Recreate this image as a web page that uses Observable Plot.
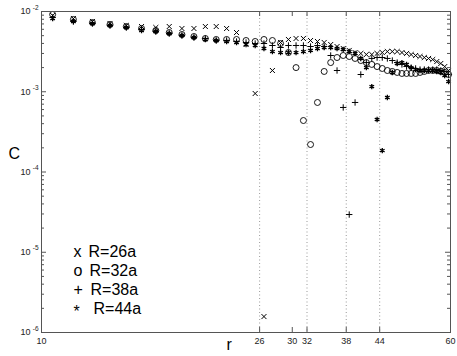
<!DOCTYPE html>
<html><head><meta charset="utf-8">
<script src="https://cdn.jsdelivr.net/npm/d3@7"></script>
<script src="https://cdn.jsdelivr.net/npm/@observablehq/plot@0.6"></script>
<style>body{margin:0;background:#fff;} #chart svg{display:block;background:#fff;}</style>
</head><body><div id="chart"></div>
<script>
const rValues = [10.5,11.5,12.5,13.5,14.5,15.5,16.5,17.5,18.5,19.5,20.5,21.5,22.5,23.5,24.5,25.5,26.5,27.5,28.5,29.5,30.5,31.5,32.5,33.5,34.5,35.5,36.5,37.5,38.5,39.5,40.5,41.5,42.5,43.5,44.5,45.5,46.5,47.5,48.5,49.5,50.5,51.5,52.5,53.5,54.5,55.5,56.5,57.5,58.5,59.5];
const cR26 = [.00892,.00818,.00751,.00709,.00669,.00650,.00632,.00650,.00614,.00614,.00650,.00650,.00614,.00547,.00388,.000951,1.58e-6,.00184,.00411,.00448,.00461,.00461,.00435,.00423,.00411,.00388,.00366,.00346,.00327,.00308,.00300,.00291,.00291,.00300,.00308,.00317,.00317,.00317,.00308,.00300,.00291,.00283,.00275,.00267,.00260,.00252,.00238,.00225,.00206,.00184];
const cR32 = [.00918,.00795,.00729,.00689,.00650,.00614,.00580,.00547,.00517,.00488,.00461,.00448,.00448,.00448,.00435,.00423,.00448,.00435,.00399,.00308,.00200,.000438,.000220,.000735,.00179,.00231,.00267,.00283,.00275,.00260,.00245,.00231,.00219,.00206,.00195,.00184,.00179,.00174,.00169,.00169,.00169,.00169,.00174,.00179,.00184,.00184,.00184,.00179,.00174,.00164];
const cR38 = [.00842,.00751,.00709,.00669,.00632,.00597,.00563,.00532,.00502,.00474,.00461,.00435,.00435,.00423,.00411,.00399,.00399,.00377,.00356,.00377,.00377,.00377,.00366,.00377,.00366,.00283,.00184,.000637,2.95e-5,.000735,.00164,.00231,.00260,.00267,.00267,.00260,.00245,.00231,.00219,.00206,.00200,.00195,.00189,.00189,.00189,.00189,.00189,.00184,.00179,.00164];
const cR44 = [.00818,.00751,.00709,.00669,.00632,.00580,.00563,.00532,.00502,.00474,.00448,.00435,.00423,.00411,.00388,.00377,.00346,.00317,.00308,.00308,.00308,.00317,.00327,.00346,.00356,.00356,.00346,.00336,.00317,.00300,.00260,.00200,.00116,.000451,.000185,.000848,.00174,.00225,.00231,.00219,.00200,.00189,.00184,.00184,.00184,.00184,.00179,.00174,.00159,.00134];

const xTicks = [10,26,30,32,38,44,60];
const refLines = [26,32,38,44];
const yDecades = [1e-6,1e-5,1e-4,1e-3,1e-2];
const yExponents = ["-6","-5","-4","-3","-2"];
const yMinor = [2e-6,3e-6,4e-6,5e-6,6e-6,7e-6,8e-6,9e-6,2e-5,3e-5,4e-5,5e-5,6e-5,7e-5,8e-5,9e-5,2e-4,3e-4,4e-4,5e-4,6e-4,7e-4,8e-4,9e-4,2e-3,3e-3,4e-3,5e-3,6e-3,7e-3,8e-3,9e-3];
const legendMarkers = ["x","o","+","*"];
const legendLabels = ["R=26a","R=32a","R=38a","R=44a"];

const W = 457, H = 356, mL = 41, mR = 7, mT = 11, mB = 24;
const fw = W - mL - mR, fh = H - mT - mB;
const axisColor = "#555";
const font = "'Liberation Sans', Arial, Helvetica, sans-serif";

const series = [
  {values: cR26, symbol: "times", r: 2.4, sw: 1},
  {values: cR32, symbol: "circle", r: 3, sw: 0.9},
  {values: cR38, symbol: "plus", r: 2.2, sw: 1},
  {values: cR44, symbol: "asterisk", r: 2.5, sw: 1.3}
];
const yLabelRows = yDecades.map((v, i) => ({v, e: yExponents[i]}));

const marks = [
  Plot.ruleX(refLines, {stroke: "#999", strokeDasharray: "1,2.5", strokeWidth: 1}),
  Plot.tickY(yMinor, {y: d => d, insetRight: fw - 3, stroke: axisColor}),
  Plot.tickY(yMinor, {y: d => d, insetLeft: fw - 3, stroke: axisColor}),
  Plot.tickY(yDecades, {y: d => d, insetRight: fw - 5, stroke: axisColor}),
  Plot.tickY(yDecades, {y: d => d, insetLeft: fw - 5, stroke: axisColor}),
  Plot.tickX(xTicks, {x: d => d, insetTop: fh - 5, stroke: axisColor}),
  Plot.tickX(xTicks, {x: d => d, insetBottom: fh - 5, stroke: axisColor}),
  ...series.map(s => Plot.dot(rValues.map((r, i) => ({r, c: s.values[i]})), {
    x: "r", y: "c", symbol: () => s.symbol, r: s.r, stroke: "#000", strokeWidth: s.sw, fill: "none"
  })),
  Plot.frame({stroke: axisColor, strokeWidth: 1}),
  Plot.text(yLabelRows, {y: "v", frameAnchor: "left", text: () => "10", dx: -11, textAnchor: "end", fontSize: 9, fill: "#222"}),
  Plot.text(yLabelRows, {y: "v", frameAnchor: "left", text: "e", dx: -3, dy: -4, textAnchor: "end", fontSize: 6.5, fill: "#222"}),
  Plot.text(xTicks, {x: d => d, frameAnchor: "bottom", dy: 11, text: d => String(d), fontSize: 9, fill: "#222"}),
  Plot.text(["C"], {frameAnchor: "left", dx: -33, dy: -18.5, fontSize: 16, fill: "#000"}),
  Plot.text(["r"], {frameAnchor: "bottom-left", dx: 185, dy: 17, fontSize: 16, fill: "#000"}),
  ...legendMarkers.map((m, i) => Plot.text([m], {frameAnchor: "top-left", dx: 32, dy: 234 + i * 19 + (m === "*" ? 3 : 0), fontSize: 16, fill: "#000"})),
  ...legendLabels.map((l, i) => Plot.text([l], {frameAnchor: "top-left", dx: [47, 48, 49, 52][i], dy: 234 + i * 19, textAnchor: "start", fontSize: 16, fill: "#000"}))
];

const chart = Plot.plot({
  width: W, height: H,
  marginLeft: mL, marginRight: mR, marginTop: mT, marginBottom: mB,
  style: {fontFamily: font, background: "#fff"},
  x: {type: "log", domain: [10, 60], axis: null},
  y: {type: "log", domain: [1e-6, 1e-2], axis: null},
  marks
});
document.getElementById("chart").appendChild(chart);
</script>
</body></html>
